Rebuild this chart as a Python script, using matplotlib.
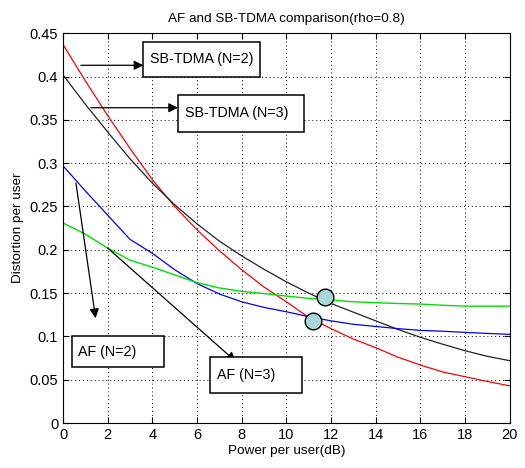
import matplotlib
matplotlib.use("Agg")
import matplotlib.pyplot as plt
from matplotlib.patches import Rectangle

plt.rcParams['font.family'] = ['Liberation Sans', 'DejaVu Sans']

# Data
power_db = [0, 1, 2, 3, 4, 5, 6, 7, 8, 9, 10, 11, 12, 13, 14, 15, 16, 17, 18, 19, 20]
sb_tdma_n2 = [0.437, 0.395, 0.355, 0.317, 0.281, 0.250, 0.223, 0.199, 0.177, 0.157, 0.140, 0.122, 0.109, 0.097, 0.087, 0.076, 0.067, 0.059, 0.0535, 0.048, 0.043]
sb_tdma_n3 = [0.402, 0.368, 0.336, 0.305, 0.277, 0.252, 0.230, 0.210, 0.193, 0.1775, 0.163, 0.150, 0.138, 0.128, 0.118, 0.108, 0.099, 0.091, 0.0835, 0.077, 0.072]
af_blue = [0.297, 0.268, 0.240, 0.212, 0.196, 0.177, 0.161, 0.149, 0.140, 0.1335, 0.1285, 0.1228, 0.118, 0.114, 0.1115, 0.109, 0.107, 0.106, 0.1047, 0.1035, 0.1024]
af_green = [0.231, 0.218, 0.202, 0.188, 0.180, 0.171, 0.162, 0.156, 0.152, 0.1495, 0.1466, 0.144, 0.142, 0.140, 0.139, 0.138, 0.1374, 0.136, 0.135, 0.135, 0.135]
circle_x = [11.17, 11.72]
circle_y = [0.118, 0.146]

fig = plt.figure(figsize=(5.25, 4.68), dpi=100)
ax = fig.add_axes([0.12, 0.096, 0.851, 0.833])

ax.plot(power_db, sb_tdma_n2, color='red', lw=0.9)
ax.plot(power_db, sb_tdma_n3, color='#222222', lw=0.9)
ax.plot(power_db, af_blue, color='blue', lw=0.9)
ax.plot(power_db, af_green, color='#00e000', lw=1.0)
ax.plot(circle_x, circle_y, 'o', ms=12, mfc='#a9d6d6', mec='black', mew=1.0, zorder=5)

ax.set_xlim(0, 20)
ax.set_ylim(0, 0.45)
ax.set_xticks(range(0, 21, 2))
ax.set_yticks([0, 0.05, 0.1, 0.15, 0.2, 0.25, 0.3, 0.35, 0.4, 0.45])
ax.set_yticklabels(['0', '0.05', '0.1', '0.15', '0.2', '0.25', '0.3', '0.35', '0.4', '0.45'])
ax.grid(True, color='black', linestyle=(0, (1, 3)), lw=0.7)
ax.tick_params(direction='in', top=True, right=True, labelsize=10.5, length=4)
ax.set_title('AF and SB-TDMA comparison(rho=0.8)', fontsize=9.7, pad=8)
ax.set_xlabel('Power per user(dB)', fontsize=9.7, labelpad=2)
ax.set_ylabel('Distortion per user', fontsize=9.7, labelpad=4)

arrow = dict(arrowstyle='-|>', color='black', lw=0.9, mutation_scale=14, shrinkA=0, shrinkB=0)

def box(x0, x1, y0, y1, tx, label):
    ax.add_patch(Rectangle((x0, y0), x1 - x0, y1 - y0, fc='white', ec='black', lw=1.1, zorder=6))
    ax.text(tx, (y0 + y1) / 2, label, ha='left', va='center', fontsize=10.3, zorder=7)

ax.annotate('', xy=(3.6, 0.413), xytext=(0.8, 0.413), arrowprops=arrow)
box(3.6, 8.8, 0.40, 0.44, 3.9, 'SB-TDMA (N=2)')

ax.annotate('', xy=(5.15, 0.364), xytext=(1.25, 0.364), arrowprops=arrow)
box(5.15, 10.8, 0.336, 0.379, 5.46, 'SB-TDMA (N=3)')

ax.annotate('', xy=(1.46, 0.121), xytext=(0.58, 0.277), arrowprops=arrow)
box(0.4, 4.5, 0.065, 0.10, 0.69, 'AF (N=2)')

ax.annotate('', xy=(7.74, 0.071), xytext=(2.0, 0.202), arrowprops=arrow)
box(6.6, 10.7, 0.035, 0.076, 6.9, 'AF (N=3)')

fig.savefig('out.png', dpi=100)
